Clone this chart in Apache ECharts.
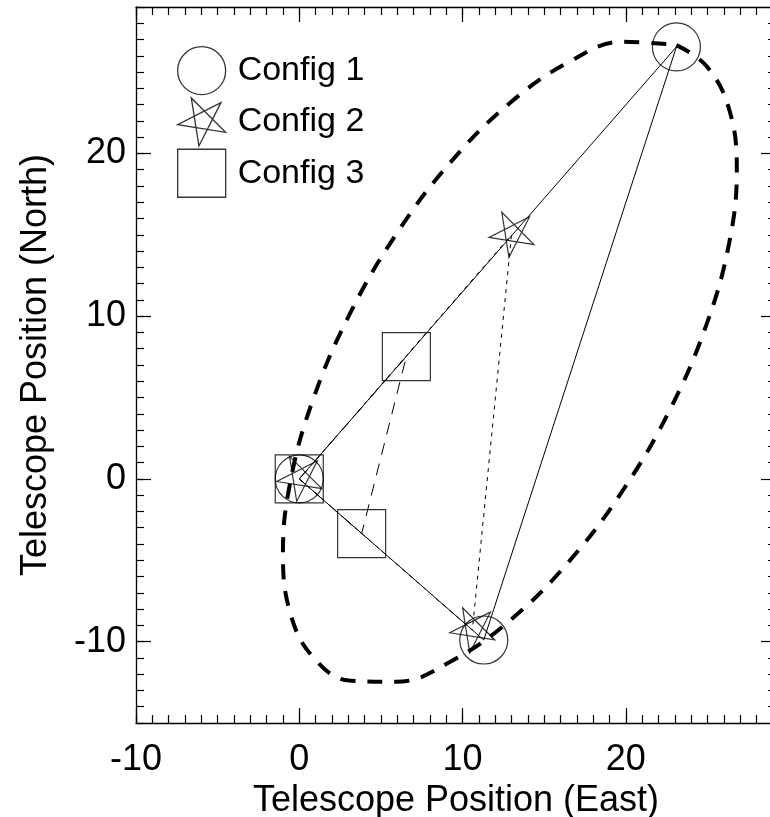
<!DOCTYPE html>
<html>
<head>
<meta charset="utf-8">
<title>Telescope configurations</title>
<script src="https://cdn.jsdelivr.net/npm/echarts@6.0.0/dist/echarts.min.js"></script>
<style>
  html, body { margin: 0; padding: 0; background: #fff; }
  #chart { width: 770px; height: 817px; }
</style>
</head>
<body>
<div id="chart"></div>
<script>
// telescope positions (East, North) for each configuration
const config1East = [0, 23.1, 11.3]
const config1North = [0, 26.55, -9.9]
const config2East = [0, 13.0, 10.6]
const config2North = [0, 15.0, -9.3]
const config3East = [0, 6.56, 3.82]
const config3North = [0, 7.52, -3.36]

const trackEast = [23.10, 24.94, 26.33, 26.80, 26.33, 24.94, 22.73, 19.85, 16.50, 12.90,
  9.30, 5.95, 3.07, 0.86, -0.53, -1.00, -0.53, 0.86, 3.07, 5.95, 9.30, 12.90, 16.50, 19.85, 23.10]
const trackNorth = [26.66, 25.37, 22.72, 19.00, 14.49, 9.48, 4.31, -0.66, -5.10, -8.70,
  -11.21, -12.47, -12.39, -10.97, -8.32, -4.60, -0.09, 4.92, 10.09, 15.06, 19.50, 23.10, 25.61, 26.87, 26.66]

const xMajorTicks = [-10, 0, 10, 20]
const yMajorTicks = [-10, 0, 10, 20]
const configNames = ['Config 1', 'Config 2', 'Config 3']

const FONT = '"Liberation Sans", Arial, Helvetica, sans-serif'
const STAR = 'path://M70.7 -70.7 L-98.8 15.6 L89.1 45.4 L-45.4 -89.1 L-15.6 98.8 Z'

function points(east, north) {
  return east.map((e, i) => [e, north[i]])
}

function triangle(east, north) {
  const p = points(east, north)
  p.push(p[0])
  return p
}

function axis(dim, position, major, showLabel, name) {
  const isX = dim === 'x'
  const a = {
    type: 'value',
    position: position,
    min: isX ? -10 : -15,
    max: isX ? 29.2 : 29,
    splitLine: { show: false },
    // the right-hand frame edge falls just outside the picture
    axisLine: { show: major && position !== 'right', onZero: false, lineStyle: { color: '#000', width: 1.3 } },
    axisTick: {
      show: true,
      inside: true,
      length: major ? 15 : 8,
      lineStyle: { color: '#000', width: 1.2 }
    },
    axisLabel: { show: false }
  }
  if (major) {
    const ticks = isX ? xMajorTicks : yMajorTicks
    a.axisTick.customValues = ticks
    a.axisLabel = {
      show: showLabel,
      customValues: ticks,
      color: '#000',
      fontSize: 36,
      fontFamily: FONT,
      margin: isX ? 19 : 10
    }
  } else {
    a.interval = 1
  }
  if (name) {
    a.name = name
    a.nameLocation = 'middle'
    a.nameGap = isX ? 58 : 82
    a.nameTextStyle = { color: '#000', fontSize: 36, fontFamily: FONT }
  }
  return a
}

const lineStyle = (type) => ({ color: '#000', width: 1, type: type })
const markStyle = { color: 'rgba(0,0,0,0)', borderColor: '#000', borderWidth: 1.2 }

const chart = echarts.init(document.getElementById('chart'))
chart.setOption({
  animation: false,
  textStyle: { fontFamily: FONT },
  grid: { left: 136, top: 7, width: 640, height: 716, containLabel: false, outerBoundsMode: 'none' },
  xAxis: [
    axis('x', 'bottom', true, true, 'Telescope Position (East)'),
    axis('x', 'bottom', false, false),
    axis('x', 'top', true, false),
    axis('x', 'top', false, false)
  ],
  yAxis: [
    axis('y', 'left', true, true, 'Telescope Position (North)'),
    axis('y', 'left', false, false),
    axis('y', 'right', true, false),
    axis('y', 'right', false, false)
  ],
  legend: {
    data: configNames,
    orient: 'vertical',
    left: 177,
    top: 46,
    padding: 0,
    itemWidth: 48,
    itemHeight: 48,
    itemGap: 2,
    itemStyle: { borderWidth: 1.3 },
    textStyle: { color: '#000', fontSize: 34, fontFamily: FONT, padding: [0, 0, 0, 7] }
  },
  series: [
    {
      type: 'line',
      data: points(trackEast, trackNorth),
      smooth: 0.4,
      smoothConstraint: false,
      symbol: 'none',
      lineStyle: { color: '#000', width: 4, type: [15, 12] },
      silent: true
    },
    { type: 'line', data: triangle(config1East, config1North), symbol: 'none', lineStyle: lineStyle('solid'), silent: true },
    { type: 'line', data: triangle(config2East, config2North), symbol: 'none', lineStyle: lineStyle([4, 5]), silent: true },
    { type: 'line', data: triangle(config3East, config3North), symbol: 'none', lineStyle: lineStyle([12, 9]), silent: true },
    {
      name: 'Config 1',
      type: 'scatter',
      data: points(config1East, config1North),
      symbol: 'circle',
      symbolSize: 48,
      itemStyle: markStyle
    },
    {
      name: 'Config 2',
      type: 'scatter',
      data: points(config2East, config2North),
      symbol: STAR,
      symbolSize: 45,
      symbolKeepAspect: true,
      itemStyle: markStyle
    },
    {
      name: 'Config 3',
      type: 'scatter',
      data: points(config3East, config3North),
      symbol: 'rect',
      symbolSize: 48,
      itemStyle: markStyle
    }
  ]
})
</script>
</body>
</html>
